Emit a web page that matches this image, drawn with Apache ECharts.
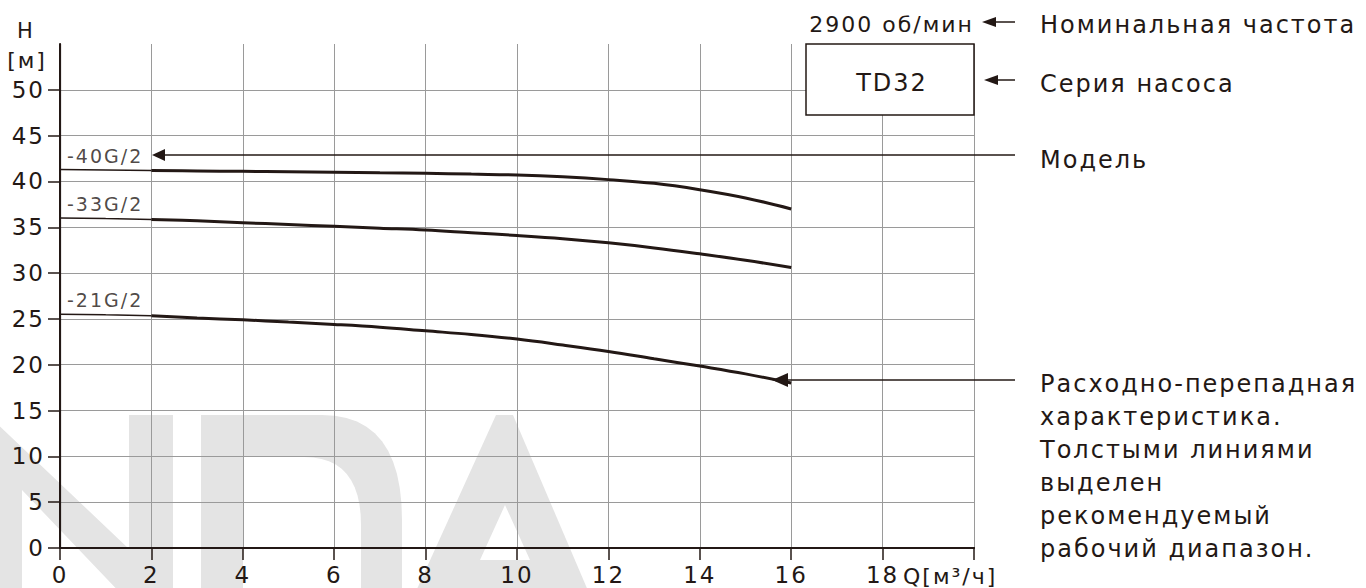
<!DOCTYPE html>
<html><head><meta charset="utf-8">
<script src="https://cdn.jsdelivr.net/npm/echarts@6/dist/echarts.min.js"></script>
<style>
html,body{margin:0;padding:0;background:#fff;}
#c{width:1366px;height:588px;letter-spacing:2px;}
</style></head><body><div id="c"></div>
<script>
// ---- data ----
const qValues = [0,1,2,3,4,5,6,7,8,9,10,11,12,13,14,15,16];
const h40 = [41.3,41.25,41.2,41.15,41.1,41.05,41.0,40.95,40.9,40.8,40.7,40.5,40.2,39.8,39.1,38.2,37.0];
const h33 = [36.0,35.95,35.85,35.7,35.5,35.3,35.1,34.9,34.7,34.4,34.1,33.75,33.3,32.75,32.1,31.4,30.6];
const h21 = [25.5,25.45,25.35,25.1,24.9,24.65,24.4,24.1,23.7,23.3,22.8,22.15,21.45,20.65,19.85,19.0,18.0];
const modelNames = ['-40G/2','-33G/2','-21G/2'];
const xTickValues = [0,2,4,6,8,10,12,14,16,18,20];
const xLabelValues = [0,2,4,6,8,10,12,14,16,18];
const yTickValues = [0,5,10,15,20,25,30,35,40,45,50];
const seriesName = 'TD32';
const speedText = '2900 об/мин';
const xName = 'Q[м³/ч]';
const yName1 = 'H';
const yName2 = '[м]';
const noteFreq = 'Номинальная частота';
const noteSeries = 'Серия насоса';
const noteModel = 'Модель';
const noteCurve = ['Расходно-перепадная','характеристика.','Толстыми линиями','выделен','рекомендуемый','рабочий диапазон.'];
const recommendedStartIndex = 2;

const INK = '#231815';
const FONT = '"DejaVu Sans", sans-serif';
const WM = '#e4e4e4';

const chart = echarts.init(document.getElementById('c'), null, {renderer:'svg'});

function pairs(arr, from, to){
  const out=[];
  for(let i=from;i<=to;i++) out.push([qValues[i], arr[i]]);
  return out;
}
const curves = [h40,h33,h21];
const series = [];
curves.forEach((arr, k) => {
  series.push({type:'line', data:pairs(arr,0,recommendedStartIndex), smooth:true, showSymbol:false,
    lineStyle:{color:INK,width:1.5}, z:5, silent:true});
  series.push({type:'line', data:pairs(arr,recommendedStartIndex,qValues.length-1), smooth:0.4, showSymbol:false,
    lineStyle:{color:INK,width:3}, z:6, silent:true});
});
series.push({type:'scatter', symbolSize:0, silent:true, z:7,
  data: curves.map((arr,k)=>({value:[qValues[0], arr[0]], name:modelNames[k]})),
  label:{show:true, position:[7,-14], align:'left', verticalAlign:'middle',
    formatter:p=>p.name, color:INK, fontSize:19, fontFamily:FONT}
});

function arrowHead(tipX, tipY, len, half){
  return {type:'polygon', shape:{points:[[tipX,tipY],[tipX+len,tipY-half],[tipX+len,tipY+half]]}, style:{fill:INK}, z:10};
}
function hline(x1,x2,y,w){
  return {type:'line', shape:{x1:x1,y1:y,x2:x2,y2:y}, style:{stroke:INK, lineWidth:w||1.5}, z:10};
}
function txt(x,y,t,size,align){
  return {type:'text', x:x, y:y, z:10, style:{text:t, fill:INK, font: size+'px '+FONT, textAlign:align||'left', textVerticalAlign:'middle'}};
}
// quadratic bezier points for the watermark logo outline
function quad(p0,p1,p2,n){
  const pts=[];
  for(let i=0;i<=n;i++){const t=i/n,a=(1-t)*(1-t),b=2*(1-t)*t,c=t*t;
    pts.push([a*p0[0]+b*p1[0]+c*p2[0], a*p0[1]+b*p1[1]+c*p2[1]]);}
  return pts;
}
const dOuter = [[201,415]].concat(quad([322,415],[402,415],[402,520],12), [[402,600],[201,600]]);
const dInner = [[243,457]].concat(quad([304,457],[361,457],[361,525],12), [[361,600],[243,600]]);

const NOTE_X = 1040;
const graphics = [
  // watermark
  {type:'polygon', z:-100, silent:true, shape:{points:[[-60,415],[-12,415],[129,549],[129,415],[173,415],[173,600],[127,600],[22,490],[22,600],[-60,600]]}, style:{fill:WM}},
  {type:'polygon', z:-100, silent:true, shape:{points:dOuter}, style:{fill:WM}},
  {type:'polygon', z:-99, silent:true, shape:{points:dInner}, style:{fill:'#fff'}},
  {type:'polygon', z:-100, silent:true, shape:{points:[[496,415],[513,415],[592,600],[412,600]]}, style:{fill:WM}},
  {type:'polygon', z:-99, silent:true, shape:{points:[[505,505],[480,560],[530,560]]}, style:{fill:'#fff'}},
  // box
  {type:'rect', z:10, shape:{x:806,y:44,width:168,height:71}, style:{fill:'#fff', stroke:INK, lineWidth:1.5}},
  txt(892,83,seriesName,24,'center'),
  txt(974,24,speedText,22,'right'),
  // arrows
  arrowHead(982,22,14,5), hline(994,1015,22),
  arrowHead(984,80,14,5), hline(996,1015,80),
  arrowHead(152,155,13,6), hline(162,1015,155),
  arrowHead(772,380,16,7), hline(785,1015,380),
  // notes
  txt(NOTE_X,25,noteFreq,24), txt(NOTE_X,84,noteSeries,24), txt(NOTE_X,160,noteModel,24),
  // axis names
  txt(903,576,xName,22,'left'),
  txt(26,31,yName1,21,'center'),
  txt(27,60,yName2,22,'center')
];
noteCurve.forEach((t,i)=>graphics.push(txt(NOTE_X,384+i*33,t,24)));

chart.setOption({
  backgroundColor:'#fff',
  animation:false,
  grid:{left:60,right:392,top:44,bottom:40},
  xAxis:[{type:'value', min:0, max:20, interval:2,
    axisLine:{show:true,lineStyle:{color:INK,width:2}},
    axisTick:{show:true,length:12,lineStyle:{color:INK,width:1.5},customValues:xTickValues},
    axisLabel:{color:INK,fontSize:23,fontFamily:FONT,margin:15,customValues:xLabelValues},
    splitLine:{show:true,lineStyle:{color:'#9a9a9a',width:1}}},
    {type:'value', position:'top', min:0, max:20, interval:2,
    axisLine:{show:true,lineStyle:{color:INK,width:2}}, axisTick:{show:false}, axisLabel:{show:false}, splitLine:{show:false}}],
  yAxis:[{type:'value', min:0, max:55, interval:5,
    axisLine:{show:true,lineStyle:{color:INK,width:2}},
    axisTick:{show:true,length:12,lineStyle:{color:INK,width:1.5},customValues:yTickValues},
    axisLabel:{color:INK,fontSize:23,fontFamily:FONT,margin:15,customValues:yTickValues},
    splitLine:{show:true,lineStyle:{color:'#9a9a9a',width:1}}},
    {type:'value', position:'right', min:0, max:55, interval:5,
    axisLine:{show:true,lineStyle:{color:INK,width:1.2}}, axisTick:{show:false}, axisLabel:{show:false}, splitLine:{show:false}}],
  series: series,
  graphic: graphics
});
</script></body></html>
